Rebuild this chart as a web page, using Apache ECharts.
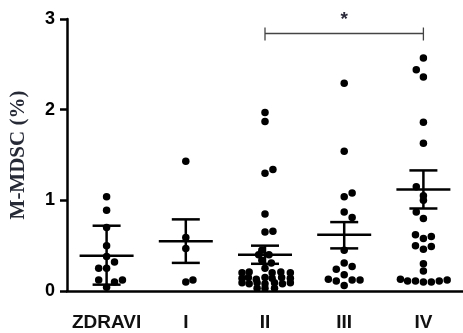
<!DOCTYPE html>
<html>
<head>
<meta charset="utf-8">
<script src="https://cdn.jsdelivr.net/npm/echarts@6/dist/echarts.min.js"></script>
<style>
  html, body { margin: 0; padding: 0; background: #fff; }
  #chart { width: 463px; height: 333px; }
</style>
</head>
<body>
<div id="chart"></div>
<script>
// groups on the x axis
var categories = ['ZDRAVI', 'I', 'II', 'III', 'IV'];
var yTicks = [0, 1, 2, 3];

// each dot: [sideways offset within the group, M-MDSC %]
var zdravi = [[0, 1.04], [0, 0.89], [0, 0.70], [0, 0.50], [0, 0.38], [0.1, 0.32], [-0.1, 0.25], [0, 0.25],
  [-0.1, 0.12], [0.1, 0.10], [0.2, 0.12], [0, 0.04]];
var grpI = [[0, 1.43], [0, 0.59], [0, 0.47], [0, 0.10], [0.09, 0.12]];
var grpII = [[0, 1.97], [0, 1.87], [0, 1.30], [0.1, 1.34], [0, 0.85], [0, 0.65], [0.1, 0.66],
  [-0.04, 0.45], [-0.08, 0.40], [0.05, 0.40], [-0.04, 0.34], [0.08, 0.31], [0, 0.25],
  [-0.29, 0.20], [-0.2, 0.21], [0.09, 0.20], [0.2, 0.21], [0.32, 0.20],
  [-0.29, 0.14], [-0.21, 0.15], [-0.11, 0.13], [0, 0.15], [0.09, 0.14], [0.21, 0.15], [0.32, 0.14],
  [-0.29, 0.09], [-0.2, 0.08], [-0.1, 0.09], [0, 0.08], [0.12, 0.09], [0.22, 0.08], [0.32, 0.09],
  [-0.1, 0.03], [0, 0.03], [0.12, 0.03]];
var grpIII = [[0, 2.29], [0, 1.54], [0, 1.04], [0.1, 1.08], [0, 0.87], [0.1, 0.81], [0, 0.45],
  [0, 0.31], [0.1, 0.27], [-0.1, 0.24], [0, 0.18], [-0.2, 0.13], [-0.1, 0.11], [0.1, 0.12], [0.2, 0.12], [0, 0.06]];
var grpIV = [[0, 2.57], [-0.09, 2.44], [0, 2.36], [0, 1.86], [0, 1.63], [-0.09, 1.15], [0, 1.05], [0, 1.0],
  [-0.09, 0.87], [0, 0.80], [-0.1, 0.62], [0, 0.58], [0.1, 0.60], [-0.1, 0.50], [0, 0.46], [0.1, 0.49],
  [0, 0.30], [0, 0.22], [-0.29, 0.13], [-0.2, 0.11], [-0.1, 0.11], [0, 0.10], [0.1, 0.10], [0.2, 0.11], [0.3, 0.12]];

// mean +/- SEM
var means = [0.39, 0.55, 0.40, 0.62, 1.12];
var semLow = [0.07, 0.31, 0.30, 0.47, 0.91];
var semHigh = [0.72, 0.79, 0.50, 0.76, 1.33];

// significance bracket: from group, to group, height, mark
var sigFrom = 2;
var sigTo = 4;
var sigLevel = 2.84;
var sigMark = '*';

var groups = [zdravi, grpI, grpII, grpIII, grpIV];
var dots = [];
groups.forEach(function (g, i) {
  g.forEach(function (p) {
    dots.push([i + p[0], p[1]]);
  });
});

var bars = means.map(function (m, i) {
  return [i, m, semLow[i], semHigh[i]];
});

var chart = echarts.init(document.getElementById('chart'));

chart.setOption({
  animation: false,
  grid: { left: 56, right: 0, top: 19, bottom: 42 },
  xAxis: [
    {
      type: 'category',
      data: categories,
      axisLine: { onZero: false, lineStyle: { color: '#000', width: 2.5 } },
      axisTick: { alignWithLabel: true, length: 6, lineStyle: { color: '#000', width: 2.5 } },
      axisLabel: {
        interval: 0,
        margin: 22,
        color: '#111',
        fontFamily: 'Liberation Sans',
        fontWeight: 'bold',
        fontSize: 19
      }
    },
    {
      type: 'value',
      min: -0.5,
      max: 4.5,
      show: false
    }
  ],
  yAxis: {
    type: 'value',
    min: yTicks[0],
    max: yTicks[yTicks.length - 1],
    interval: 1,
    name: 'M-MDSC (%)',
    nameLocation: 'middle',
    nameGap: 38,
    nameTextStyle: {
      fontFamily: 'Liberation Serif',
      fontWeight: 'bold',
      fontSize: 21,
      color: '#262a36'
    },
    axisLine: { show: true, onZero: false, lineStyle: { color: '#000', width: 2.5 } },
    axisTick: { show: true, length: 7, lineStyle: { color: '#000', width: 2.5 } },
    axisLabel: {
      margin: 12,
      color: '#000',
      fontFamily: 'Liberation Sans',
      fontWeight: 'bold',
      fontSize: 18
    },
    splitLine: { show: false }
  },
  series: [
    {
      type: 'scatter',
      xAxisIndex: 1,
      symbol: 'circle',
      symbolSize: 7.5,
      itemStyle: { color: '#000', opacity: 1 },
      data: dots,
      z: 3
    },
    {
      type: 'custom',
      xAxisIndex: 1,
      data: bars,
      z: 4,
      renderItem: function (params, api) {
        var mid = api.coord([api.value(0), api.value(1)]);
        var lo = api.coord([api.value(0), api.value(2)]);
        var hi = api.coord([api.value(0), api.value(3)]);
        var st = { stroke: '#000', lineWidth: 2.5 };
        return {
          type: 'group',
          children: [
            { type: 'line', shape: { x1: mid[0] - 27, y1: mid[1], x2: mid[0] + 27, y2: mid[1] }, style: st },
            { type: 'line', shape: { x1: lo[0], y1: lo[1], x2: hi[0], y2: hi[1] }, style: st },
            { type: 'line', shape: { x1: hi[0] - 14, y1: hi[1], x2: hi[0] + 14, y2: hi[1] }, style: st },
            { type: 'line', shape: { x1: lo[0] - 14, y1: lo[1], x2: lo[0] + 14, y2: lo[1] }, style: st }
          ]
        };
      }
    },
    {
      type: 'custom',
      xAxisIndex: 1,
      data: [[sigFrom, sigTo, sigLevel]],
      z: 4,
      renderItem: function (params, api) {
        var a = api.coord([api.value(0), api.value(2)]);
        var b = api.coord([api.value(1), api.value(2)]);
        var st = { stroke: '#444', lineWidth: 1.3 };
        return {
          type: 'group',
          children: [
            { type: 'line', shape: { x1: a[0], y1: a[1], x2: b[0], y2: b[1] }, style: st },
            { type: 'line', shape: { x1: a[0], y1: a[1] - 6, x2: a[0], y2: a[1] + 7 }, style: st },
            { type: 'line', shape: { x1: b[0], y1: b[1] - 6, x2: b[0], y2: b[1] + 7 }, style: st },
            {
              type: 'text',
              x: (a[0] + b[0]) / 2,
              y: a[1] - 4,
              style: {
                text: sigMark,
                fill: '#2a2a3a',
                font: 'bold 19px Liberation Sans',
                align: 'center',
                verticalAlign: 'bottom'
              }
            }
          ]
        };
      }
    }
  ]
});
</script>
</body>
</html>
